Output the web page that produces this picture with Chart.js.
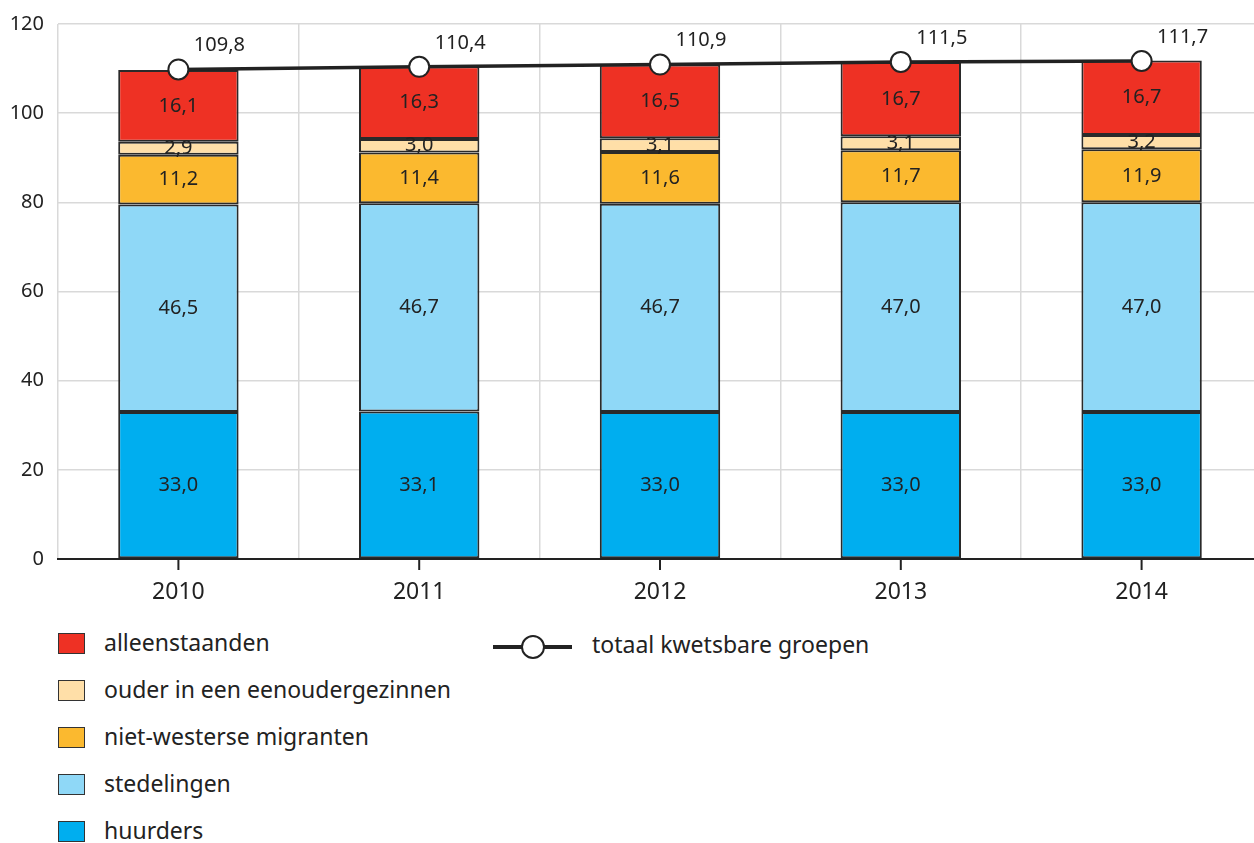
<!DOCTYPE html>
<html>
<head>
<meta charset="utf-8">
<script src="https://cdn.jsdelivr.net/npm/chart.js@4.4.1/dist/chart.umd.min.js"></script>
<style>
  html, body { margin: 0; padding: 0; background: #fff; overflow: hidden; }
  #wrap { position: absolute; left: 0; top: 0; width: 1274px; height: 620px; }
  .legend { position: absolute; font-family: "Noto Sans", sans-serif; font-size: 23px; color: #222; }
  .item { position: absolute; white-space: nowrap; }
  .box { position: absolute; width: 25px; height: 19px; border: 1.5px solid #333; }
</style>
</head>
<body>
<div id="wrap"><canvas id="chart" width="1274" height="620"></canvas></div>
<div class="legend" id="legend"></div>
<script>
var jaren = ['2010', '2011', '2012', '2013', '2014'];
var huurders = [33.0, 33.1, 33.0, 33.0, 33.0];
var stedelingen = [46.5, 46.7, 46.7, 47.0, 47.0];
var migranten = [11.2, 11.4, 11.6, 11.7, 11.9];
var eenouder = [2.9, 3.0, 3.1, 3.1, 3.2];
var alleenstaanden = [16.1, 16.3, 16.5, 16.7, 16.7];
var totaal = [109.8, 110.4, 110.9, 111.5, 111.7];
var yTicks = [0, 20, 40, 60, 80, 100, 120];

function fmt(v) { return v.toFixed(1).replace('.', ','); }

function bar(label, data, color) {
  return {
    type: 'bar', label: label, data: data, backgroundColor: color,
    borderColor: '#2a2a2a', borderWidth: 2, borderSkipped: false,
    stack: 'groepen', order: 2
  };
}

// labels inside segments and above the line points
var labelPlugin = {
  id: 'labels',
  afterDatasetsDraw: function (chart) {
    var ctx = chart.ctx;
    ctx.save();
    ctx.fillStyle = '#222';
    ctx.textAlign = 'center';
    ctx.textBaseline = 'middle';
    ctx.font = '20px "Noto Sans"';
    chart.data.datasets.forEach(function (ds, i) {
      var meta = chart.getDatasetMeta(i);
      meta.data.forEach(function (el, j) {
        if (ds.type === 'bar') {
          ctx.fillText(fmt(ds.data[j]), el.x, (el.y + el.base) / 2);
        } else {
          ctx.fillText(fmt(ds.data[j]), el.x + 41, el.y - 24);
        }
      });
    });
    ctx.restore();
  }
};

// short tick marks under the x axis at each year
var tickPlugin = {
  id: 'centerTicks',
  afterDraw: function (chart) {
    var x = chart.scales.x, ctx = chart.ctx;
    ctx.save();
    ctx.strokeStyle = '#222';
    ctx.lineWidth = 2;
    jaren.forEach(function (j, i) {
      var px = x.getPixelForValue(i);
      ctx.beginPath();
      ctx.moveTo(px, x.top);
      ctx.lineTo(px, x.top + 11);
      ctx.stroke();
    });
    ctx.restore();
  }
};

new Chart(document.getElementById('chart'), {
  data: {
    labels: jaren,
    datasets: [
      bar('huurders', huurders, '#00aeef'),
      bar('stedelingen', stedelingen, '#8fd8f7'),
      bar('niet-westerse migranten', migranten, '#fbb92f'),
      bar('ouder in een eenoudergezinnen', eenouder, '#ffdfa8'),
      bar('alleenstaanden', alleenstaanden, '#ee3124'),
      {
        type: 'line', label: 'totaal kwetsbare groepen', data: totaal,
        borderColor: '#222', borderWidth: 3.5, stack: 'totaal', order: 1,
        pointRadius: 10, pointBackgroundColor: '#fff', pointBorderColor: '#222',
        pointBorderWidth: 2, tension: 0
      }
    ]
  },
  options: {
    responsive: false,
    animation: false,
    layout: { padding: { top: 12, right: 0, left: 0, bottom: 0 } },
    datasets: { bar: { categoryPercentage: 1, barPercentage: 0.5 } },
    plugins: { legend: { display: false }, tooltip: { enabled: false } },
    scales: {
      x: {
        stacked: true,
        offset: true,
        grid: { offset: true, color: '#d9d9d9', lineWidth: 1.5, drawTicks: false },
        border: { color: '#222', width: 2 },
        ticks: { color: '#222', font: { family: 'Noto Sans', size: 23 }, padding: 20 },
        afterFit: function (s) { s.height = 61; }
      },
      y: {
        stacked: true,
        min: 0, max: 120,
        afterBuildTicks: function (s) { s.ticks = yTicks.map(function (v) { return { value: v }; }); },
        grid: { color: '#d9d9d9', lineWidth: 1.5, drawTicks: false },
        border: { display: false },
        ticks: { color: '#222', font: { family: 'Noto Sans', size: 20, lineHeight: 1 }, padding: 14 },
        afterFit: function (s) { s.width = 58; }
      }
    }
  },
  plugins: [labelPlugin, tickPlugin]
});

// legend in two columns like the original
var legendItems = [
  { label: 'alleenstaanden', color: '#ee3124' },
  { label: 'ouder in een eenoudergezinnen', color: '#ffdfa8' },
  { label: 'niet-westerse migranten', color: '#fbb92f' },
  { label: 'stedelingen', color: '#8fd8f7' },
  { label: 'huurders', color: '#00aeef' }
];
var lg = document.getElementById('legend');
legendItems.forEach(function (it, i) {
  var cy = 644 + i * 47;
  var d = document.createElement('div');
  d.className = 'item';
  d.style.left = '58px';
  d.style.top = (cy - 11) + 'px';
  d.innerHTML = '<span class="box" style="background:' + it.color + ';left:0;top:0"></span>' +
    '<span style="position:absolute;left:46px;top:-7px">' + it.label + '</span>';
  lg.appendChild(d);
});
var lineItem = document.createElement('div');
lineItem.className = 'item';
lineItem.style.left = '493px';
lineItem.style.top = '630px';
lineItem.innerHTML =
  '<span style="position:absolute;left:0;top:15px;width:79px;height:3.5px;background:#222"></span>' +
  '<span style="position:absolute;left:28px;top:5px;width:20px;height:20px;border:2px solid #222;border-radius:50%;background:#fff"></span>' +
  '<span style="position:absolute;left:99px;top:-2px">totaal kwetsbare groepen</span>';
lg.appendChild(lineItem);
</script>
</body>
</html>
